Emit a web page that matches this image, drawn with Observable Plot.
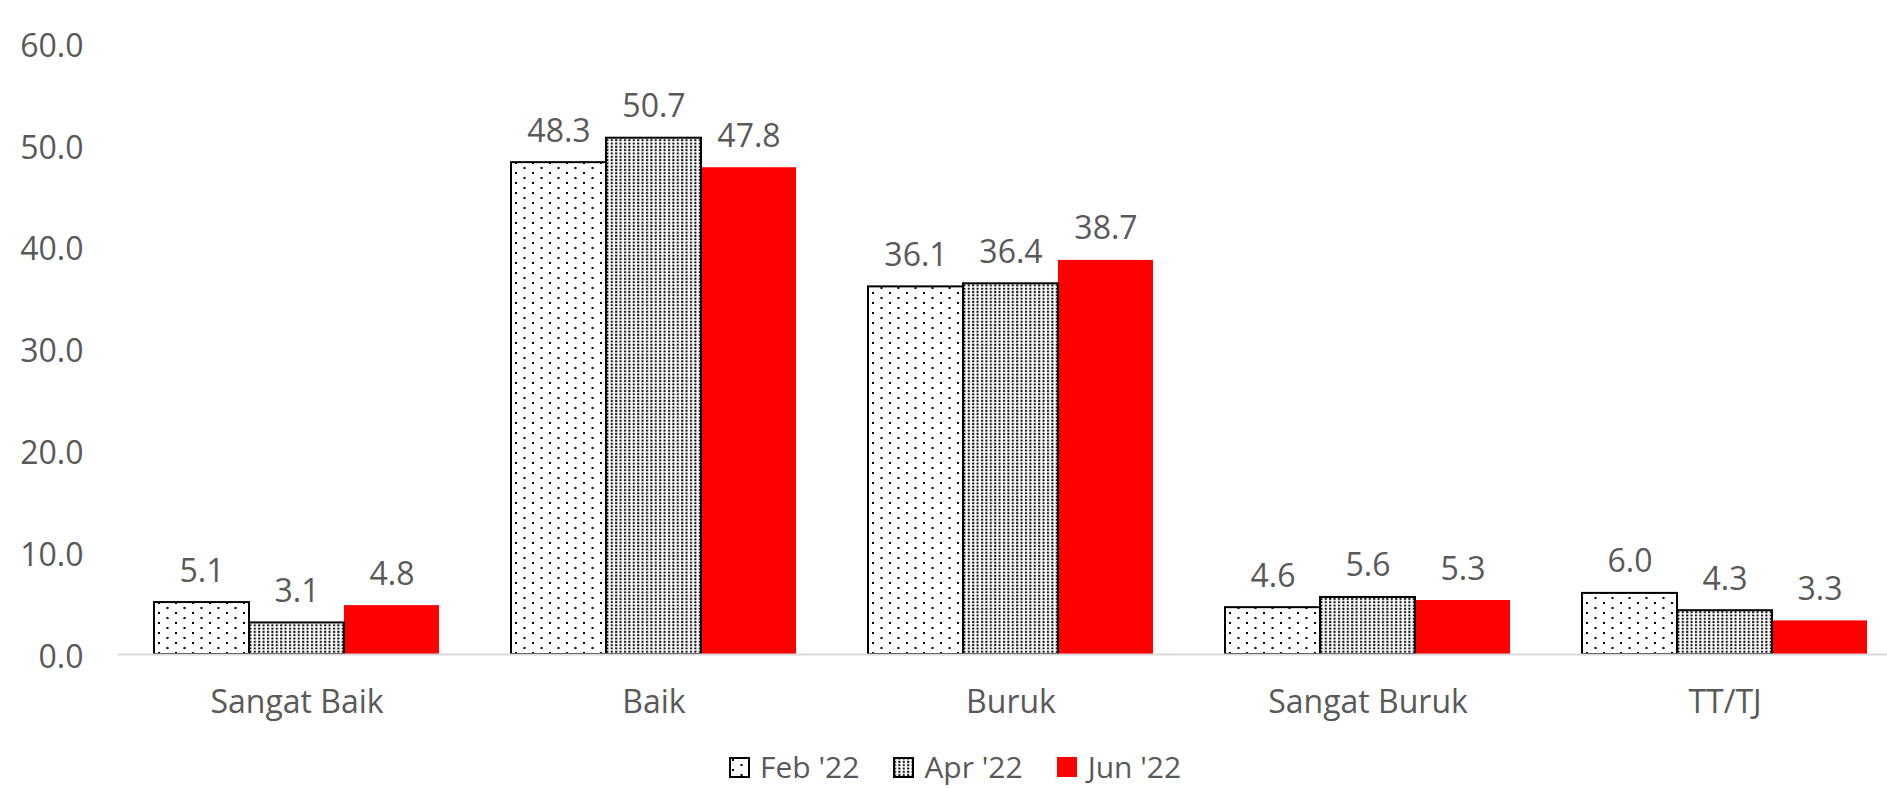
<!DOCTYPE html>
<html>
<head>
<meta charset="utf-8">
<script src="https://cdn.jsdelivr.net/npm/d3@7"></script>
<script src="https://cdn.jsdelivr.net/npm/@observablehq/plot@0.6"></script>
<style>
  html, body { margin: 0; padding: 0; background: #fff; }
  #wrap { width: 1887px; height: 788px; overflow: hidden; position: relative; font-family: "Open Sans", sans-serif; }
  #chart { width: 1887px; height: 735px; overflow: hidden; }
  #chart svg { max-width: none !important; display: block; }
  #legend { display: flex; align-items: center; padding-left: 729px; padding-top: 17px; height: 30px; color: #595959; font-size: 30px; line-height: 30px; }
  #legend .item { display: flex; align-items: center; margin-right: 34px; height: 30px; }
  #legend svg { margin-right: 10px; display: block; }
</style>
</head>
<body>
<div id="wrap">
  <div id="chart"></div>
  <div id="legend"></div>
</div>
<script>
const categories = ["Sangat Baik", "Baik", "Buruk", "Sangat Buruk", "TT/TJ"];
const seriesNames = ["Feb '22", "Apr '22", "Jun '22"];
const feb = [5.1, 48.3, 36.1, 4.6, 6.0];
const apr = [3.1, 50.7, 36.4, 5.6, 4.3];
const jun = [4.8, 47.8, 38.7, 5.3, 3.3];
const yTicks = [0, 10, 20, 30, 40, 50, 60];

const seriesValues = [feb, apr, jun];
const rows = categories.flatMap((c, i) =>
  seriesNames.map((s, j) => ({ category: c, series: s, value: seriesValues[j][i] }))
);

const fillMap = { "Feb '22": "url(#pFeb)", "Apr '22": "url(#pApr)", "Jun '22": "#ff0000" };
const strokeMap = { "Feb '22": "#000000", "Apr '22": "#000000", "Jun '22": "none" };

const chart = Plot.plot({
  width: 1905,
  height: 735,
  marginLeft: 116,
  marginRight: 0,
  marginTop: 43,
  marginBottom: 81,
  style: { fontFamily: "Open Sans", fontSize: "32px", color: "#595959", background: "white", maxWidth: "none" },
  fx: { domain: categories, padding: 0, label: null, axis: "bottom", tickSize: 0, tickPadding: 36 },
  x: { domain: seriesNames, paddingInner: 0, paddingOuter: 0.373, axis: null },
  y: { domain: [0, 60], axis: null },
  color: { type: "identity" },
  marks: [
    Plot.axisY({ ticks: yTicks, tickFormat: d3.format(".1f"), tickSize: 0, tickPadding: 35, label: null, dy: 3, fill: "#595959" }),
    Plot.barY(rows.filter(d => d.series === "Jun '22"), {
      fx: "category", x: "series", y: "value",
      fill: d => fillMap[d.series]
    }),
    Plot.barY(rows.filter(d => d.series !== "Jun '22"), {
      fx: "category", x: "series", y: "value",
      fill: d => fillMap[d.series], stroke: d => strokeMap[d.series], strokeWidth: 2
    }),
    Plot.ruleY([0], { stroke: "#d9d9d9", strokeWidth: 2 }),
    Plot.text(rows, {
      fx: "category", x: "series", y: "value",
      text: d => d.value.toFixed(1),
      lineAnchor: "bottom", dy: -21, fill: "#595959", fontSize: 32
    })
  ]
});
chart.style.maxWidth = "none";

// pattern definitions
const defs = d3.select(chart).insert("defs", ":first-child");
const pf = defs.append("pattern").attr("id", "pFeb").attr("patternUnits", "userSpaceOnUse")
  .attr("width", 17).attr("height", 10);
pf.append("rect").attr("width", 17).attr("height", 10).attr("fill", "#fff");
pf.append("rect").attr("x", 3).attr("y", 2).attr("width", 2).attr("height", 2).attr("fill", "#000");
pf.append("rect").attr("x", 11.5).attr("y", 7).attr("width", 2).attr("height", 2).attr("fill", "#000");
const pa = defs.append("pattern").attr("id", "pApr").attr("patternUnits", "userSpaceOnUse")
  .attr("width", 4.4).attr("height", 3.3);
pa.append("rect").attr("width", 4.4).attr("height", 3.3).attr("fill", "#fff");
pa.append("rect").attr("x", 1).attr("y", 0.6).attr("width", 2).attr("height", 2).attr("fill", "#000");

document.getElementById("chart").appendChild(chart);

// legend
const legend = d3.select("#legend");
seriesNames.forEach(s => {
  const item = legend.append("div").attr("class", "item");
  const sw = item.append("svg").attr("width", 21).attr("height", 21);
  if (s === "Jun '22") {
    sw.append("rect").attr("width", 20).attr("height", 20).attr("fill", fillMap[s]);
  } else {
    sw.append("rect").attr("x", 1).attr("y", 1).attr("width", 19).attr("height", 19)
      .attr("fill", fillMap[s]).attr("stroke", "#000").attr("stroke-width", 2);
  }
  item.append("span").text(s);
});
</script>
</body>
</html>
